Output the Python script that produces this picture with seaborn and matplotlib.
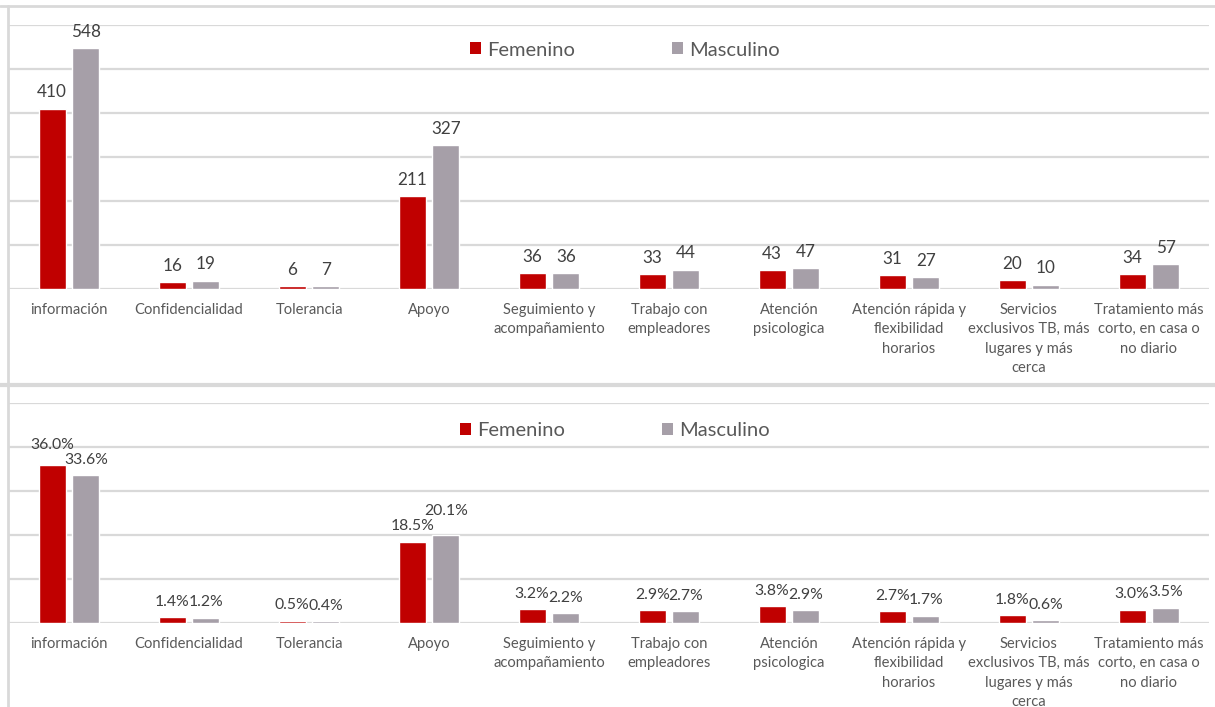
import numpy as np
import pandas as pd
import matplotlib
matplotlib.use("Agg")
import matplotlib.pyplot as plt
from matplotlib.lines import Line2D
from matplotlib.patches import Patch
import seaborn as sns

categorias = ["información", "Confidencialidad", "Tolerancia", "Apoyo",
              "Seguimiento y\nacompañamiento", "Trabajo con\nempleadores",
              "Atención\npsicologica", "Atención rápida y\nflexibilidad\nhorarios",
              "Servicios\nexclusivos TB, más\nlugares y más\ncerca",
              "Tratamiento más\ncorto, en casa o\nno diario"]
series = ["Femenino", "Masculino"]
femenino_n = [410, 16, 6, 211, 36, 33, 43, 31, 20, 34]
masculino_n = [548, 19, 7, 327, 36, 44, 47, 27, 10, 57]
femenino_pct = [36.0, 1.4, 0.5, 18.5, 3.2, 2.9, 3.8, 2.7, 1.8, 3.0]
masculino_pct = [33.6, 1.2, 0.4, 20.1, 2.2, 2.7, 2.9, 1.7, 0.6, 3.5]

colores = {"Femenino": "#C00000", "Masculino": "#A69FA8"}
GRID = "#D9D9D9"

sns.set_theme(style="white")
plt.rcParams["font.family"] = ["Lato", "DejaVu Sans"]

W, H = 1215, 707
DPI = 100
fig = plt.figure(figsize=(W / DPI, H / DPI), dpi=DPI)

def fig_rect(x0, y_top, x1, y_bot):
    return [x0 / W, 1 - y_bot / H, (x1 - x0) / W, (y_bot - y_top) / H]

ax1 = fig.add_axes(fig_rect(9, 25, 1209, 289))
ax2 = fig.add_axes(fig_rect(9, 403, 1209, 623))

def long_df(f, m):
    return pd.DataFrame({
        "categoria": categorias * 2,
        "sexo": [series[0]] * len(categorias) + [series[1]] * len(categorias),
        "valor": list(f) + list(m),
    })

def draw(ax, df, ymax, step, fmt, label_size):
    sns.barplot(data=df, x="categoria", y="valor", hue="sexo", order=categorias,
                hue_order=series, palette=colores, width=0.56, gap=0.2,
                saturation=1, legend=False, ax=ax, zorder=3)
    ax.set_ylim(0, ymax)
    ax.set_xlim(-0.5, len(categorias) - 0.5)
    ax.set_yticks(np.arange(0, ymax + step / 2, step))
    ax.yaxis.grid(True, color=GRID, lw=1.6, zorder=0)
    ax.set_axisbelow(True)
    ax.tick_params(axis="y", left=False, labelleft=False)
    ax.tick_params(axis="x", length=0, pad=10, labelsize=10.6, colors="#595959")
    for lbl in ax.get_xticklabels():
        lbl.set_linespacing(1.5)
        lbl.set_verticalalignment("top")
    for s in ax.spines.values():
        s.set_visible(False)
    ax.set_xlabel("")
    ax.set_ylabel("")
    groups = []
    for cont in ax.containers:
        groups.append(ax.bar_label(cont, fmt=fmt, padding=6, fontsize=label_size,
                                   color="#404040"))
    return groups

groups1 = draw(ax1, long_df(femenino_n, masculino_n), 600, 100, "%.0f", 12.3)
groups2 = draw(ax2, long_df(femenino_pct, masculino_pct), 50, 10, "%.1f%%", 11.3)

# resolve clearly colliding neighbour labels like the spreadsheet does: lift the higher one
fig.canvas.draw()
renderer = fig.canvas.get_renderer()
for groups in (groups1, groups2):
    for a, b in zip(groups[0], groups[1]):
        ba = a.get_window_extent(renderer)
        bb = b.get_window_extent(renderer)
        if ba.x1 - bb.x0 > 4 and ba.y1 > bb.y0 and bb.y1 > ba.y0:
            upper = a if ba.y0 >= bb.y0 else b
            lower_box = bb if upper is a else ba
            upper_box = ba if upper is a else bb
            lift_px = lower_box.y1 - upper_box.y0 + 1
            dx, dy = upper.xyann
            upper.xyann = (dx, dy + lift_px * 72 / DPI)

handles = [Patch(facecolor=colores[s], edgecolor="none") for s in series]
for y_px, x_px in [(50, 625), (431, 615)]:
    fig.legend(handles, series, loc="center", bbox_to_anchor=(x_px / W, 1 - y_px / H),
               ncol=2, frameon=False, fontsize=14.5, labelcolor="#595959",
               handlelength=0.55, handleheight=0.55, handletextpad=0.3,
               columnspacing=4.8)

# chart frame lines
fig.add_artist(Line2D([0, 1], [1 - 6 / H, 1 - 6 / H], color=GRID, lw=2))
fig.add_artist(Line2D([8 / W, 8 / W], [0, 1 - 6 / H], color=GRID, lw=2))
fig.add_artist(Line2D([0, 1], [1 - 385 / H, 1 - 385 / H], color=GRID, lw=3))

fig.savefig("out.png", dpi=DPI)
